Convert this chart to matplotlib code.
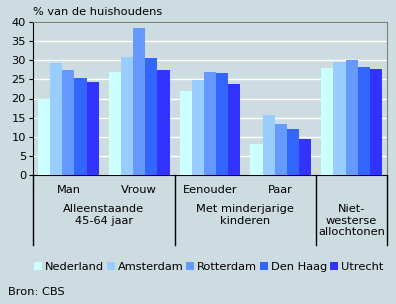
import matplotlib
matplotlib.use('Agg')
import matplotlib.pyplot as plt
from matplotlib.patches import Patch
import numpy as np

# data
categories = ['Man', 'Vrouw', 'Eenouder', 'Paar', '']
series_names = ['Nederland', 'Amsterdam', 'Rotterdam', 'Den Haag', 'Utrecht']
nederland = [20.0, 27.0, 22.0, 8.1, 28.0]
amsterdam = [29.3, 30.9, 24.9, 15.7, 29.6]
rotterdam = [27.5, 38.5, 27.0, 13.4, 30.1]
den_haag = [25.4, 30.7, 26.7, 12.1, 28.3]
utrecht = [24.4, 27.5, 23.8, 9.4, 27.8]
group_labels = ['Alleenstaande\n45-64 jaar', 'Met minderjarige\nkinderen', 'Niet-\nwesterse\nallochtonen']
group_centers = [0.5, 2.5, 4.0]
group_edges = [-0.5, 1.5, 3.5, 4.5]

colors = ['#CCFFFF', '#99CCFF', '#6699FF', '#3366FF', '#3333FF']
bg = '#CDDCE0'

plt.rcParams['font.family'] = 'DejaVu Sans'
plt.rcParams['font.size'] = 8.2

W, H = 396, 304
fig = plt.figure(figsize=(W / 100, H / 100), dpi=100, facecolor=bg)
ax = fig.add_axes([33 / W, (H - 175) / H, 354 / W, 153 / H], facecolor=bg)

x = np.arange(len(categories))
bw = 0.172
all_series = [nederland, amsterdam, rotterdam, den_haag, utrecht]
for i, (vals, name) in enumerate(zip(all_series, series_names)):
    ax.bar(x + (i - 2) * bw, vals, width=bw, color=colors[i], label=name, zorder=3)

ax.set_xlim(-0.5, 4.5)
ax.set_ylim(0, 40)
ax.set_yticks(range(0, 41, 5))
ax.yaxis.grid(True, color='white', linewidth=1, zorder=1)
ax.tick_params(axis='y', length=3, width=0.8, pad=2, colors='black')
ax.set_xticks([])
for s in ['top', 'right']:
    ax.spines[s].set_color('#808080')
for s in ['left', 'bottom']:
    ax.spines[s].set_color('black')

# category labels and group separators below the axis
trans = ax.get_xaxis_transform()
for xi, lab in zip(x, categories):
    ax.text(xi, -15 / 153, lab, transform=trans, ha='center', va='center')
for xc, lab in zip(group_centers, group_labels):
    ax.text(xc, -29 / 153, lab, transform=trans, ha='center', va='top', linespacing=1.2)
for xe in group_edges:
    ax.plot([xe, xe], [0, -70 / 153], transform=trans, color='black', linewidth=1, clip_on=False)

fig.text(33 / W, 1 - 12 / H, '% van de huishoudens', ha='left', va='center')
fig.text(8 / W, 1 - 292 / H, 'Bron: CBS', ha='left', va='center')

handles = [Patch(facecolor=c, edgecolor='none') for c in colors]
fig.legend(handles, series_names, loc='center left', bbox_to_anchor=(34 / W, 1 - 267 / H),
           ncol=5, frameon=False, handlelength=0.7, handleheight=0.7,
           handletextpad=0.25, columnspacing=0.25, borderpad=0, borderaxespad=0)

fig.savefig('out.png', dpi=100, facecolor=bg)
